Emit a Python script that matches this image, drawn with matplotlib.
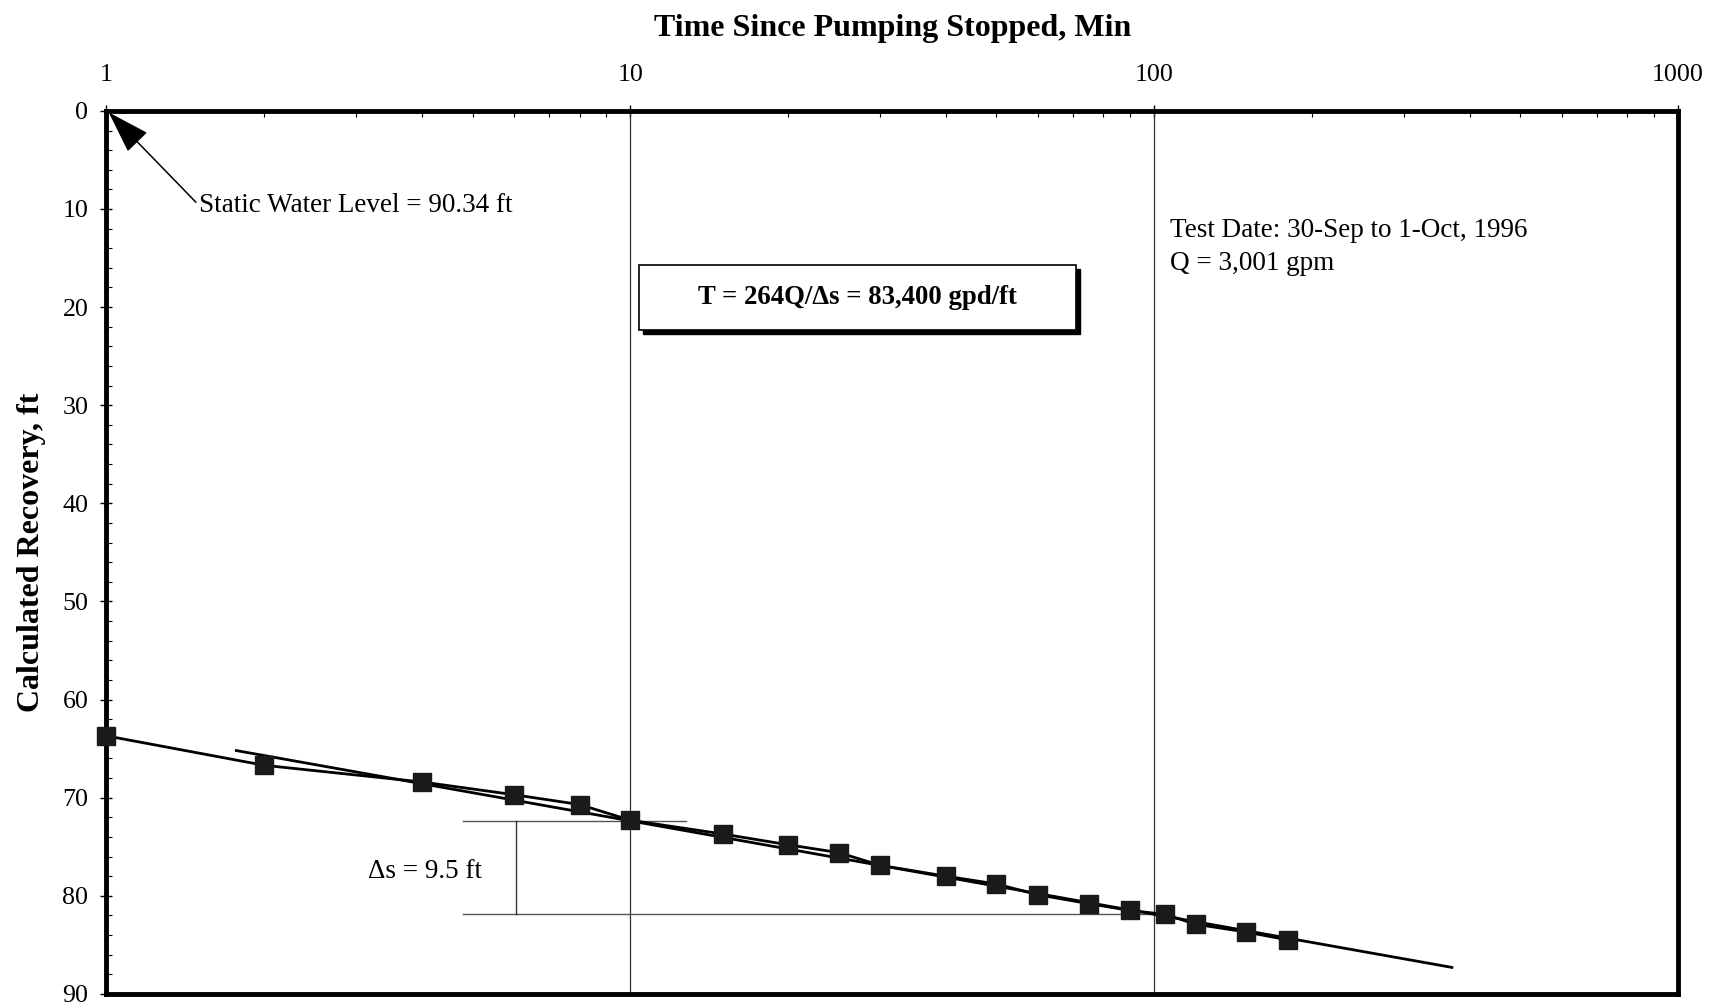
"""Recovery test plot: calculated recovery vs time since pumping stopped (semi-log)."""

import numpy as np
import matplotlib.pyplot as plt
import matplotlib.ticker as mticker
from matplotlib.patches import Rectangle

plt.rcParams["font.family"] = ["Liberation Serif", "DejaVu Serif"]

# measured recovery
time_min = [1, 2, 4, 6, 8, 10, 15, 20, 25, 30, 40, 50, 60, 75, 90, 105, 120, 150, 180]
recovery_ft = [63.7, 66.7, 68.4, 69.7, 70.7, 72.3, 73.7, 74.8, 75.6, 76.9,
               78.0, 78.8, 79.9, 80.8, 81.5, 81.9, 82.9, 83.7, 84.5]

# straight-line fit through the late data
fit_time = [1.77, 370]
fit_recovery = [65.2, 87.3]

# delta-s construction
ds_upper = 72.4
ds_lower = 81.9
ds_upper_x = [4.8, 12.8]
ds_lower_x = [4.8, 100]
ds_vert_x = 6.05

fig = plt.figure(figsize=(17.22, 10.08), dpi=100)
ax = fig.add_axes([0.0618, 0.014, 0.9127, 0.876])

ax.set_xscale("log")
ax.set_xlim(1, 1000)
ax.set_ylim(90, 0)

ax.axvline(10, color="#333333", lw=0.9)
ax.axvline(100, color="#333333", lw=0.9)

ax.plot(fit_time, fit_recovery, "-", color="black", lw=2, zorder=3)
ax.plot(time_min, recovery_ft, "-", color="black", lw=2, marker="s",
        markersize=13, markerfacecolor="#1a1a1a", markeredgecolor="#1a1a1a",
        zorder=4, clip_on=False)

ax.plot(ds_upper_x, [ds_upper, ds_upper], color="#555555", lw=1)
ax.plot(ds_lower_x, [ds_lower, ds_lower], color="#555555", lw=1)
ax.plot([ds_vert_x, ds_vert_x], [ds_upper, ds_lower], color="#333333", lw=1)
ax.text(4.05, (ds_upper + ds_lower) / 2 + 0.35, "\u0394s = 9.5 ft", fontsize=19.5,
        ha="center", va="center")

ax.annotate("Static Water Level = 90.34 ft", xy=(1.01, 0.15), xytext=(1.5, 9.6),
            fontsize=19.5, ha="left", va="center",
            arrowprops=dict(arrowstyle="-|>,head_length=1.4,head_width=0.45",
                            color="black", lw=1.1, shrinkA=0, shrinkB=0,
                            relpos=(0, 0.5)))

ax.text(107, 12.2, "Test Date: 30-Sep to 1-Oct, 1996", fontsize=19.5, va="center")
ax.text(107, 15.6, "Q = 3,001 gpm", fontsize=19.5, va="center")

# boxed transmissivity result with drop shadow
ax.add_patch(Rectangle((0.3415, 0.7475), 0.278, 0.073, transform=ax.transAxes,
                       facecolor="black", edgecolor="black", zorder=5))
ax.add_patch(Rectangle((0.339, 0.752), 0.278, 0.073, transform=ax.transAxes,
                       facecolor="white", edgecolor="black", lw=1.2, zorder=6))
ax.text(0.478, 0.7885, "T = 264Q/\u0394s = 83,400 gpd/ft", transform=ax.transAxes,
        fontsize=19.3, fontweight="bold", ha="center", va="center", zorder=7)

ax.xaxis.set_ticks_position("top")
ax.xaxis.set_label_position("top")
ax.xaxis.set_major_locator(mticker.FixedLocator([1, 10, 100, 1000]))
ax.xaxis.set_major_formatter(mticker.FuncFormatter(lambda v, p: "%d" % v))
ax.xaxis.set_minor_locator(mticker.LogLocator(base=10, subs=np.arange(2, 10)))
ax.xaxis.set_minor_formatter(mticker.NullFormatter())
ax.yaxis.set_major_locator(mticker.MultipleLocator(10))
ax.yaxis.set_minor_locator(mticker.MultipleLocator(2))

ax.tick_params(axis="both", which="major", labelsize=18.7, direction="inout",
               length=8, width=1)
ax.tick_params(axis="x", which="major", pad=14)
ax.tick_params(axis="y", which="major", pad=9)
ax.tick_params(axis="both", which="minor", direction="in", length=4, width=0.8)

for s in ax.spines.values():
    s.set_linewidth(3.5)

ax.set_xlabel("Time Since Pumping Stopped, Min", fontsize=23, fontweight="bold",
              labelpad=20)
ax.set_ylabel("Calculated Recovery, ft", fontsize=23, fontweight="bold",
              labelpad=12)

fig.savefig("out.png", dpi=100)
